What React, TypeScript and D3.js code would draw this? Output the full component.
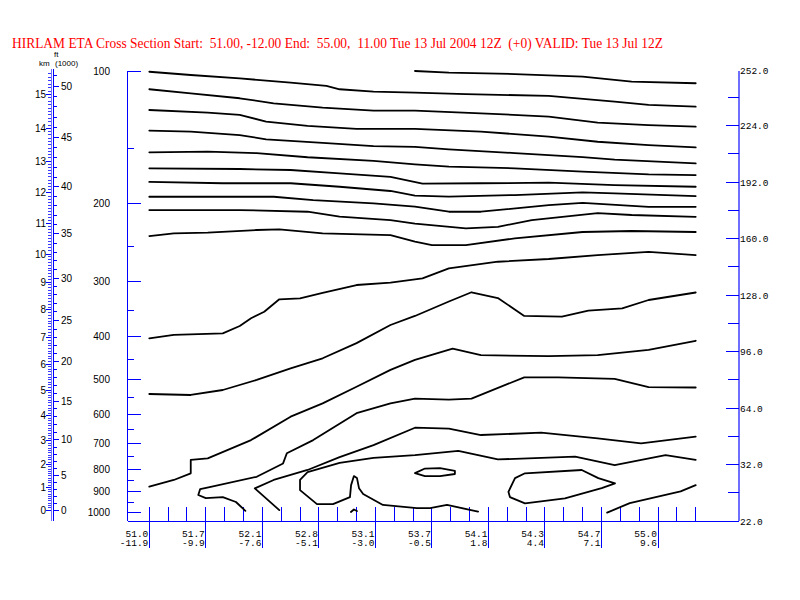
import React from "react";
import * as d3 from "d3";

// ---------- data ----------
const titleText =
  "HIRLAM ETA Cross Section Start:  51.00, -12.00 End:  55.00,  11.00 Tue 13 Jul 2004 12Z  (+0) VALID: Tue 13 Jul 12Z";

const pressureMajor = [100, 200, 300, 400, 500, 600, 700, 800, 900, 1000];
const pressureMinor = [150, 250, 350, 450, 550, 650, 750, 850, 950];

// pressure (hPa) at 0..15 km in the model atmosphere
const kmPressure = [990, 879, 781, 690, 605, 529, 462, 403, 348, 301, 260, 222, 189, 160, 135, 113];
const kmLabels = [0, 1, 2, 3, 4, 5, 6, 7, 8, 9, 10, 11, 12, 13, 14, 15];
const ftLabels = [0, 5, 10, 15, 20, 25, 30, 35, 40, 45, 50];

const latLabels = ["51.0", "51.7", "52.1", "52.8", "53.1", "53.7", "54.1", "54.3", "54.7", "55.0"];
const lonLabels = ["-11.9", "-9.9", "-7.6", "-5.1", "-3.0", "-0.5", "1.8", "4.4", "7.1", "9.6"];
const nColumns = 30;

const rightMajor = [32, 64, 96, 128, 160, 192, 224];
const rightMinor = [16, 48, 80, 112, 144, 176, 208, 240];
const rightTopLabel = "252.0";
const rightBottomLabel = "22.0";

// contour lines: [column index, pressure hPa]
const lineA0 = [[14.1, 100], [15.9, 100.9], [19.4, 101.6], [23.0, 103.0], [25.6, 105.7], [29, 106.6]];
const lineA = [[0, 100.4], [2.2, 102.1], [4.8, 103.9], [7.5, 106.3], [9.4, 108.1], [10.1, 110.0], [11.9, 111.4], [14.1, 112.0], [16.8, 112.8], [21.2, 113.9], [24.7, 117.4], [26.5, 119.4], [29, 120.5]];
const lineB = [[0, 110.0], [2.2, 112.4], [4.8, 115.3], [6.6, 118.4], [9.2, 121.1], [11.9, 123.0], [14.1, 123.0], [17.6, 124.7], [21.2, 126.9], [23.8, 130.9], [26.5, 132.7], [29, 133.7]];
const lineC = [[0, 122.6], [3.1, 124.3], [4.8, 125.8], [6.2, 130.2], [8.4, 133.2], [11.0, 135.3], [14.1, 135.3], [17.6, 137.2], [21.2, 140.9], [23.8, 144.7], [26.5, 147.2], [29, 149.0]];
const lineD = [[0, 136.5], [2.2, 137.2], [4.8, 139.7], [6.2, 142.9], [9.2, 145.5], [11.9, 148.0], [14.1, 148.6], [15.9, 150.6], [19.4, 153.5], [23.0, 156.8], [24.7, 158.8], [29, 162.0]];
const lineE = [[0, 152.9], [3.1, 152.4], [5.7, 153.6], [8.4, 156.9], [11.9, 159.9], [14.1, 162.8], [15.9, 164.8], [19.4, 166.2], [23.0, 169.2], [26.5, 171.6], [29, 172.2]];
const lineF = [[0, 166.2], [4.8, 166.8], [7.5, 167.7], [10.1, 170.7], [12.8, 173.8], [14.5, 180.0], [17.6, 179.7], [21.2, 179.2], [24.7, 181.4], [29, 183.0]];
const lineG = [[0, 178.4], [3.9, 179.7], [7.5, 179.7], [10.1, 183.0], [12.8, 187.1], [14.1, 191.6], [15.9, 192.7], [19.4, 191.1], [23.0, 188.4], [24.7, 189.5], [29, 192.1]];
const lineH = [[0, 192.8], [6.6, 192.8], [8.7, 196.2], [11.9, 199.6], [14.1, 203.1], [15.9, 208.5], [17.6, 208.5], [21.2, 201.4], [23.0, 199.0], [26.5, 203.2], [29, 203.2]];
const lineI = [[0, 206.7], [4.8, 206.7], [8.4, 208.5], [10.1, 213.9], [12.8, 217.8], [14.1, 221.8], [16.8, 227.4], [18.5, 225.6], [20.3, 217.8], [23.8, 210.0], [25.6, 212.1], [29, 214.1]];
const lineJ = [[0, 236.7], [1.3, 233.4], [3.1, 232.6], [5.7, 229.4], [6.9, 228.6], [9.2, 233.4], [12.8, 235.5], [14.1, 243.7], [15.0, 248.1], [16.8, 248.1], [19.4, 239.6], [23.0, 231.8], [25.6, 230.6], [29, 231.8]];
const lineK = [[0, 403.8], [1.3, 396.8], [3.9, 393.4], [4.8, 378.7], [5.4, 363.7], [6.1, 351.4], [6.9, 329.4], [8.0, 327.8], [9.2, 318.6], [11.0, 305.7], [12.8, 302.0], [14.5, 295.2], [15.9, 280.3], [18.5, 270.7], [21.2, 266.9], [23.8, 261.4], [26.5, 257.0], [29, 261.4]];
const lineL = [[0, 540], [2.2, 542.8], [3.9, 528.9], [5.7, 501.9], [7.5, 472.2], [9.2, 448.2], [11.0, 414], [12.8, 376.7], [14.1, 359.3], [15.9, 333.2], [17.1, 317.5], [18.5, 327.2], [19.9, 359.3], [21.9, 360.6], [23.3, 349.6], [25.1, 345.3], [26.5, 330.6], [29, 317.9]];
const lineM = [[0, 876], [1.3, 846], [2.2, 817], [2.2, 762], [3.1, 756], [5.4, 687], [7.5, 608], [9.2, 567], [11.0, 520], [12.8, 476], [14.1, 452], [16.1, 426], [17.6, 441], [21.2, 443], [23.8, 441], [26.5, 429], [29, 409]];
const lineN = [[5.1, 994], [4.6, 949], [3.9, 925], [3.0, 930], [2.6, 915], [2.7, 887], [3.2, 878], [5.7, 832], [7.1, 776], [7.3, 736], [8.7, 687], [11.0, 597], [12.8, 567], [14.1, 553], [15.9, 556], [17.1, 553], [19.9, 495], [21.7, 495], [24.7, 499], [26.5, 521], [29, 522]];
const lineO = [[6.9, 990], [5.6, 884], [6.6, 846], [8.4, 803], [10.1, 751], [11.9, 705], [14.1, 644], [15.9, 647], [17.6, 669], [20.8, 661], [23.8, 681], [26.1, 699], [29, 675]];
const lineP = [[29, 762], [27.4, 743], [24.7, 783], [22.6, 749], [18.5, 760], [16.4, 727], [14.1, 743], [11.9, 754], [10.1, 774], [8.4, 812], [8.0, 846], [8.0, 892], [8.9, 960], [9.75, 960], [10.65, 925], [10.71, 869], [10.86, 829], [11.02, 837], [11.13, 883], [11.35, 910], [12.4, 964], [14.2, 980], [14.9, 980], [15.8, 964], [17.45, 998]];
const lineR = [[24.3, 1003], [25.5, 955], [28.2, 898], [29, 869]];
const hook = [[10.7, 1000], [10.86, 987], [11.02, 995]];
const loopSmall = [[14.1, 816], [14.63, 797], [15.43, 795], [16.22, 807], [16.22, 820], [15.43, 829], [14.63, 829], [14.1, 816]];
const loopRight = [[19.06, 900], [19.41, 838], [19.94, 817], [22.95, 803], [23.83, 838], [24.72, 861], [24.01, 883], [22.06, 931], [19.94, 956], [19.14, 925], [19.06, 900]];

const contours = [lineA0, lineA, lineB, lineC, lineD, lineE, lineF, lineG, lineH, lineI, lineJ, lineK, lineL, lineM, lineN, lineO, lineP, lineR, hook, loopSmall, loopRight];

// ---------- chart ----------
const BLUE = "#0000ff";
const AXIS_LIGHT = "#6f6fff";
const MONO = "'Liberation Mono', 'DejaVu Sans Mono', monospace";
const SANS = "'Liberation Sans', Arial, sans-serif";

export default function App() {
  const x = d3.scaleLinear().domain([0, nColumns - 1]).range([149.3, 695.7]);
  const y = d3.scaleLog().domain([100, 1000]).range([71, 512]);
  const plotLeft = 127.5;
  const plotRight = 739;
  const plotTop = y(100);
  const plotBottom = 521;
  const yr = d3.scaleLinear().domain([0, 255]).range([plotBottom, plotTop]);

  const logKm = kmPressure.map((p) => Math.log10(p));
  const heightY = (km: number) => {
    const i = Math.min(Math.max(Math.floor(km), 0), logKm.length - 2);
    const t = km - i;
    const lp = logKm[i] + t * (logKm[i + 1] - logKm[i]);
    return y(Math.pow(10, lp));
  };

  const line = d3
    .line<number[]>()
    .x((d) => x(d[0]))
    .y((d) => y(d[1]))
    .curve(d3.curveLinear);

  const kmMinor = d3.range(0, 161).map((k) => k / 10).filter((k) => heightY(k) >= plotTop);
  const ftTicks = d3.range(0, 60).filter((f) => heightY(f * 0.3048) >= plotTop);
  const cols = d3.range(0, nColumns);

  const kmAxisX = 51;
  const ftAxisX = 53.5;

  return (
    <svg
      width={800}
      height={600}
      style={{ position: "absolute", left: 0, top: 0, background: "#fff" }}
    >
      <rect x={0} y={0} width={800} height={600} fill="#fff" />
      <text
        x={12}
        y={48}
        fill="#ff0000"
        fontFamily="'Liberation Serif', 'Times New Roman', serif"
        fontSize={15}
        textLength={651}
        lengthAdjust="spacingAndGlyphs"
        style={{ whiteSpace: "pre" }}
      >
        {titleText}
      </text>

      {/* km / ft axis */}
      <g shapeRendering="crispEdges">
        <line x1={kmAxisX} x2={kmAxisX} y1={plotTop - 2} y2={plotBottom} stroke={AXIS_LIGHT} />
        <line x1={ftAxisX} x2={ftAxisX} y1={plotTop - 2} y2={plotBottom} stroke={BLUE} />
        {kmMinor.map((k) => (
          <line key={"kmm" + k} x1={kmAxisX - 3} x2={kmAxisX} y1={heightY(k)} y2={heightY(k)} stroke="#3a3aff" />
        ))}
        {kmLabels.map((k) => (
          <line key={"kmM" + k} x1={kmAxisX - 5} x2={kmAxisX} y1={heightY(k)} y2={heightY(k)} stroke={BLUE} />
        ))}
        {ftTicks.map((f) => (
          <line
            key={"ft" + f}
            x1={ftAxisX}
            x2={ftAxisX + (f % 5 === 0 ? 5 : 3)}
            y1={heightY(f * 0.3048)}
            y2={heightY(f * 0.3048)}
            stroke={BLUE}
          />
        ))}
      </g>
      {kmLabels.map((k) => (
        <text key={"kml" + k} x={46} y={heightY(k) + 3.5} textAnchor="end" fontFamily={SANS} fontSize={10} fill="#000">
          {k}
        </text>
      ))}
      {ftLabels.map((f) => (
        <text key={"ftl" + f} x={61} y={heightY(f * 0.3048) + 3.5} fontFamily={SANS} fontSize={10} fill="#000">
          {f}
        </text>
      ))}
      <text x={54} y={57} fontFamily={SANS} fontSize={8} fill="#000">ft</text>
      <text x={39} y={66} fontFamily={SANS} fontSize={8} fill="#000">km</text>
      <text x={55} y={66} fontFamily={SANS} fontSize={8} fill="#000">(1000)</text>

      {/* pressure axis */}
      <g shapeRendering="crispEdges" stroke={BLUE}>
        <line x1={plotLeft} x2={plotLeft} y1={plotTop} y2={plotBottom} />
        {pressureMajor.map((p) => (
          <line key={"pM" + p} x1={plotLeft} x2={plotLeft + 13} y1={y(p)} y2={y(p)} />
        ))}
        {pressureMinor.map((p) => (
          <line key={"pm" + p} x1={plotLeft} x2={plotLeft + 6} y1={y(p)} y2={y(p)} />
        ))}
      </g>
      {pressureMajor.map((p) => (
        <text key={"pl" + p} x={110} y={y(p) + 3.5} textAnchor="end" fontFamily={SANS} fontSize={10} fill="#000">
          {p}
        </text>
      ))}

      {/* bottom axis */}
      <g shapeRendering="crispEdges" stroke={BLUE}>
        <line x1={plotLeft} x2={plotRight} y1={plotBottom} y2={plotBottom} />
        {cols.map((c) => (
          <line key={"c" + c} x1={x(c)} x2={x(c)} y1={plotBottom - 14} y2={c % 3 === 0 ? 548 : plotBottom} />
        ))}
      </g>
      {latLabels.map((l, i) => (
        <text key={"lat" + i} x={x(i * 3) - 1} y={536.5} textAnchor="end" fontFamily={MONO} fontSize={9.5} fill="#000">
          {l}
        </text>
      ))}
      {lonLabels.map((l, i) => (
        <text key={"lon" + i} x={x(i * 3) - 1} y={546} textAnchor="end" fontFamily={MONO} fontSize={9.5} fill="#000">
          {l}
        </text>
      ))}

      {/* right axis */}
      <g shapeRendering="crispEdges">
        <line x1={plotRight} x2={plotRight} y1={plotTop} y2={plotBottom} stroke={AXIS_LIGHT} strokeWidth={2} />
        {rightMajor.map((v) => (
          <line key={"rM" + v} x1={plotRight - 13} x2={plotRight} y1={yr(v)} y2={yr(v)} stroke={BLUE} />
        ))}
        {rightMinor.map((v) => (
          <line key={"rm" + v} x1={plotRight - 11} x2={plotRight} y1={yr(v)} y2={yr(v)} stroke={BLUE} />
        ))}
      </g>
      {rightMajor.map((v) => (
        <text key={"rl" + v} x={plotRight + 1} y={yr(v) + 3.5} fontFamily={MONO} fontSize={9.5} fill="#000">
          {v.toFixed(1)}
        </text>
      ))}
      <text x={plotRight + 1} y={plotTop + 3} fontFamily={MONO} fontSize={9.5} fill="#000">{rightTopLabel}</text>
      <text x={plotRight + 1} y={plotBottom + 3.5} fontFamily={MONO} fontSize={9.5} fill="#000">{rightBottomLabel}</text>

      {/* contours */}
      <g fill="none" stroke="#000" strokeWidth={1.8} strokeLinejoin="round" strokeLinecap="round">
        {contours.map((c, i) => (
          <path key={"ct" + i} d={line(c) || ""} />
        ))}
      </g>
    </svg>
  );
}
